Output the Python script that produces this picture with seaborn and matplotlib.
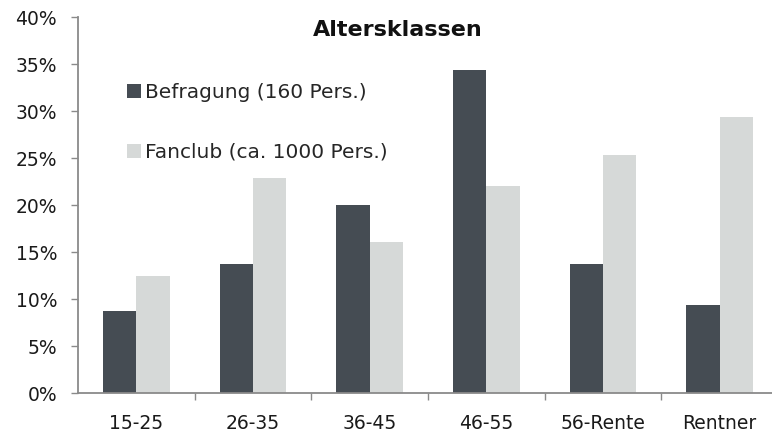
import numpy as np
import pandas as pd
import seaborn as sns
import matplotlib.pyplot as plt
from matplotlib.ticker import FuncFormatter, FixedLocator

# Altersklassen: Anteile in Prozent
klassen = ["15-25", "26-35", "36-45", "46-55", "56-Rente", "Rentner"]
befragung = [8.75, 13.75, 20.0, 34.375, 13.75, 9.375]
fanclub = [12.5, 22.9, 16.1, 22.1, 25.3, 29.4]
serien = ["Befragung (160 Pers.)", "Fanclub (ca. 1000 Pers.)"]
farben = ["#454c53", "#d6d9d8"]

df = pd.DataFrame({
    "Klasse": klassen * 2,
    "Anteil": befragung + fanclub,
    "Serie": [serien[0]] * len(klassen) + [serien[1]] * len(klassen),
})

sns.set_style("white")
plt.rcParams["font.family"] = ["DejaVu Sans"]

fig = plt.figure(figsize=(7.72, 4.34), dpi=100)
ax = fig.add_axes([78 / 772, 1 - 393.3 / 434, 700 / 772, 376 / 434])

sns.barplot(data=df, x="Klasse", y="Anteil", hue="Serie",
            palette=dict(zip(serien, farben)), saturation=1,
            width=0.57, gap=0, linewidth=0, ax=ax)

ax.set_xlim(-0.5, len(klassen) - 0.5)
ax.set_ylim(0, 40)
ax.set_yticks(np.arange(0, 41, 5))
ax.yaxis.set_major_formatter(FuncFormatter(lambda v, p: f"{v:.0f}%"))
ax.set_xlabel("")
ax.set_ylabel("")

# Striche zwischen den Kategorien
ax.xaxis.set_minor_locator(FixedLocator(np.arange(0.5, len(klassen) - 0.5, 1)))
ax.tick_params(axis="x", which="major", length=0, pad=15, labelsize=13.5,
               labelcolor="#1a1a1a")
ax.tick_params(axis="x", which="minor", length=5, width=1, color="#8a8a8a",
               direction="out", bottom=True)
ax.tick_params(axis="y", length=5, width=1, color="#8a8a8a", direction="out",
               left=True, pad=10, labelsize=13.5, labelcolor="#1a1a1a")

for s in ["top", "right"]:
    ax.spines[s].set_visible(False)
for s in ["left", "bottom"]:
    ax.spines[s].set_color("#8a8a8a")
    ax.spines[s].set_linewidth(1.3)

fig.text(398 / 772, 1 - 30 / 434, "Altersklassen", ha="center", va="center",
         fontsize=16, fontweight="bold", color="#111111")

ax.legend(loc="center left", bbox_to_anchor=(127 / 772, 1 - 122.5 / 434),
          bbox_transform=fig.transFigure, frameon=False, fontsize=14.5,
          handlelength=0.7, handleheight=0.7, handletextpad=0.2,
          labelspacing=2.0, borderpad=0, borderaxespad=0)

fig.savefig("out.png", dpi=100)
